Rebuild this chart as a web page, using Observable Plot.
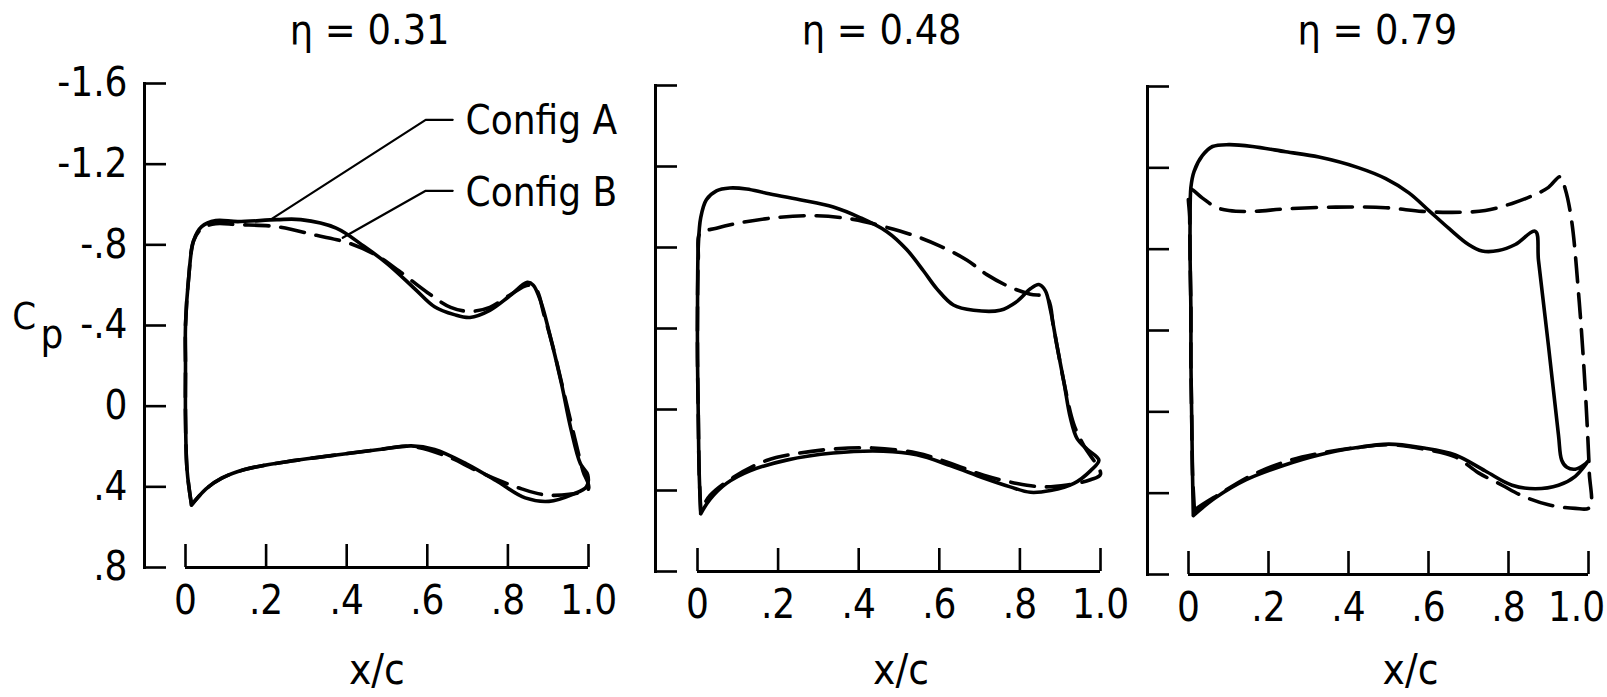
<!DOCTYPE html>
<html>
<head>
<meta charset="utf-8">
<script src="https://cdn.jsdelivr.net/npm/d3@7"></script>
<script src="https://cdn.jsdelivr.net/npm/@observablehq/plot@0.6"></script>
<style>
  html, body { margin: 0; padding: 0; background: #fff; }
  #chart { position: relative; width: 1607px; height: 697px; overflow: hidden; }
  #chart svg { position: absolute; top: 0; overflow: visible; }
</style>
</head>
<body>
<div id="chart"></div>
<script>
// ---------- data ----------
const panelTitles = ["η = 0.31", "η = 0.48", "η = 0.79"];
const seriesNames = ["Config A", "Config B"];
const xTicks = [0, 0.2, 0.4, 0.6, 0.8, 1.0];
const xTickLabels = ["0", ".2", ".4", ".6", ".8", "1.0"];
const yTicks = [-1.6, -1.2, -0.8, -0.4, 0, 0.4, 0.8];
const yTickLabels = ["-1.6", "-1.2", "-.8", "-.4", "0", ".4", ".8"];

// [x/c, Cp] around the section: leading edge up, upper surface to TE, lower surface back
const eta031A = [[0.015,0.49],[0.004,0.32],[0.0,0.05],[0.0,-0.20],[0.0,-0.40],[0.008,-0.64],[0.02,-0.82],[0.04,-0.89],[0.075,-0.92],[0.13,-0.915],[0.227,-0.925],[0.286,-0.925],[0.374,-0.883],[0.442,-0.794],[0.501,-0.706],[0.569,-0.582],[0.618,-0.493],[0.667,-0.454],[0.706,-0.44],[0.755,-0.475],[0.804,-0.546],[0.848,-0.614],[0.863,-0.60],[0.883,-0.51],[0.902,-0.37],[0.932,-0.12],[0.956,0.11],[0.98,0.286],[0.998,0.34],[0.995,0.40],[0.961,0.437],[0.902,0.472],[0.843,0.455],[0.775,0.375],[0.697,0.286],[0.618,0.215],[0.56,0.197],[0.481,0.215],[0.374,0.242],[0.247,0.277],[0.149,0.313],[0.09,0.357],[0.051,0.41],[0.015,0.49]];
const eta031B = [[0.015,0.49],[0.004,0.32],[0.0,0.05],[0.0,-0.20],[0.0,-0.40],[0.008,-0.64],[0.02,-0.82],[0.04,-0.88],[0.075,-0.905],[0.129,-0.90],[0.227,-0.89],[0.325,-0.847],[0.403,-0.81],[0.472,-0.75],[0.53,-0.67],[0.60,-0.564],[0.658,-0.49],[0.706,-0.47],[0.755,-0.49],[0.804,-0.55],[0.85,-0.60],[0.87,-0.58],[0.89,-0.45],[0.911,-0.30],[0.941,-0.05],[0.966,0.16],[0.986,0.32],[1.0,0.41],[0.952,0.437],[0.893,0.44],[0.834,0.41],[0.775,0.366],[0.716,0.313],[0.65,0.25],[0.56,0.20],[0.481,0.215],[0.374,0.242],[0.247,0.277],[0.149,0.313],[0.09,0.357],[0.051,0.41],[0.015,0.49]];

const eta048A = [[0.008,0.515],[0.004,0.30],[0.002,0.04],[0.0,-0.25],[0.0,-0.49],[0.002,-0.807],[0.008,-0.948],[0.022,-1.036],[0.047,-1.08],[0.08,-1.094],[0.122,-1.089],[0.171,-1.068],[0.254,-1.036],[0.337,-1.0],[0.403,-0.948],[0.47,-0.878],[0.519,-0.79],[0.561,-0.684],[0.594,-0.596],[0.635,-0.516],[0.685,-0.49],[0.751,-0.49],[0.793,-0.534],[0.826,-0.596],[0.847,-0.617],[0.863,-0.587],[0.876,-0.49],[0.892,-0.314],[0.909,-0.138],[0.925,0.039],[0.942,0.144],[0.967,0.197],[0.996,0.25],[0.975,0.303],[0.934,0.365],[0.876,0.40],[0.826,0.409],[0.776,0.382],[0.71,0.338],[0.627,0.277],[0.544,0.224],[0.461,0.206],[0.337,0.215],[0.221,0.25],[0.13,0.303],[0.072,0.365],[0.031,0.444],[0.008,0.515]];
const eta048B = [[0.008,0.50],[0.004,0.30],[0.002,0.04],[0.0,-0.25],[0.0,-0.49],[0.002,-0.75],[0.006,-0.869],[0.047,-0.895],[0.105,-0.922],[0.196,-0.948],[0.296,-0.957],[0.387,-0.939],[0.461,-0.904],[0.536,-0.86],[0.602,-0.807],[0.669,-0.737],[0.718,-0.666],[0.776,-0.604],[0.826,-0.569],[0.867,-0.552],[0.884,-0.40],[0.909,-0.138],[0.934,0.074],[0.959,0.18],[1.0,0.32],[0.975,0.347],[0.917,0.373],[0.859,0.382],[0.793,0.365],[0.71,0.325],[0.627,0.265],[0.544,0.215],[0.436,0.19],[0.337,0.195],[0.254,0.215],[0.171,0.252],[0.089,0.335],[0.031,0.425],[0.008,0.50]];

const eta079A = [[0.012,0.51],[0.01,0.30],[0.008,0.028],[0.006,-0.25],[0.006,-0.498],[0.004,-0.75],[0.004,-0.937],[0.006,-1.104],[0.014,-1.183],[0.035,-1.261],[0.06,-1.305],[0.101,-1.314],[0.16,-1.305],[0.243,-1.279],[0.326,-1.253],[0.426,-1.2],[0.493,-1.147],[0.551,-1.077],[0.601,-0.99],[0.651,-0.902],[0.70,-0.823],[0.734,-0.791],[0.775,-0.793],[0.817,-0.823],[0.867,-0.888],[0.875,-0.744],[0.90,-0.323],[0.925,0.115],[0.933,0.238],[0.946,0.273],[0.967,0.282],[0.992,0.256],[1.0,0.24],[0.967,0.317],[0.925,0.361],[0.867,0.378],[0.809,0.361],[0.742,0.291],[0.667,0.212],[0.584,0.177],[0.501,0.159],[0.418,0.177],[0.326,0.212],[0.235,0.265],[0.143,0.335],[0.068,0.422],[0.012,0.51]];
const eta079B = [[0.015,0.49],[0.01,0.30],[0.008,0.028],[0.006,-0.25],[0.006,-0.498],[0.004,-0.75],[0.003,-0.95],[0.003,-1.095],[0.035,-1.051],[0.068,-1.007],[0.101,-0.99],[0.16,-0.986],[0.243,-0.998],[0.368,-1.007],[0.493,-1.004],[0.584,-0.986],[0.659,-0.981],[0.742,-0.99],[0.809,-1.025],[0.867,-1.069],[0.90,-1.104],[0.929,-1.156],[0.942,-1.095],[0.958,-0.937],[0.975,-0.586],[0.988,-0.235],[0.998,0.115],[1.002,0.30],[1.003,0.47],[0.967,0.475],[0.90,0.457],[0.834,0.413],[0.784,0.361],[0.725,0.30],[0.667,0.222],[0.584,0.182],[0.501,0.162],[0.418,0.176],[0.326,0.205],[0.251,0.24],[0.16,0.31],[0.077,0.405],[0.018,0.48],[0.015,0.49]];

// leader lines for the series labels (first panel)
const leaderA = [[0.215,-0.93],[0.596,-1.42],[0.663,-1.42]];
const leaderB = [[0.39,-0.835],[0.596,-1.068],[0.663,-1.068]];

// ---------- layout ----------
const FONT = '"DejaVu Sans Condensed", "DejaVu Sans", sans-serif';
const panels = [
  {title: panelTitles[0], A: eta031A, B: eta031B, left: 0,    width: 620, axisPx: 144,  x0: 185,  x1: 588,  top: 83, bottom: 567, titleX: 0.457, xcX: 0.475, lastDx: 0,   labels: true},
  {title: panelTitles[1], A: eta048A, B: eta048B, left: 560,  width: 560, axisPx: 655,  x0: 697,  x1: 1100, top: 85, bottom: 571, titleX: 0.457, xcX: 0.505, lastDx: 0,   labels: false},
  {title: panelTitles[2], A: eta079A, B: eta079B, left: 1060, width: 547, axisPx: 1147, x0: 1188, x1: 1588, top: 86, bottom: 574, titleX: 0.472, xcX: 0.555, lastDx: -12, labels: false}
];

const yLabelMap = new Map(yTicks.map((t, i) => [t, yTickLabels[i]]));
const xLabelMap = new Map(xTicks.map((t, i) => [t, xTickLabels[i]]));
const H = 697;
const chart = document.getElementById("chart");

panels.forEach(p => {
  const marks = [
    // y axis spine
    Plot.frame({anchor: "left", strokeWidth: 3}),
    // inward y ticks
    Plot.axisY(yTicks, {anchor: "left", tickSize: 22, dx: 22, strokeWidth: 2.6, tickFormat: () => "", label: null}),
    // x baseline and upward ticks
    Plot.ruleY([yTicks[yTicks.length - 1]], {x1: xTicks[0], x2: xTicks[xTicks.length - 1], strokeWidth: 3}),
    Plot.axisX(xTicks, {anchor: "bottom", tickSize: 23, dy: -23, strokeWidth: 2.6, tickFormat: () => "", label: null}),
    Plot.axisX(xTicks.slice(0, -1), {anchor: "bottom", tickSize: 0, tickPadding: 18, tickFormat: d => xLabelMap.get(d), label: null, fontSize: 40}),
    Plot.axisX(xTicks.slice(-1), {anchor: "bottom", tickSize: 0, tickPadding: 18, dx: p.lastDx, tickFormat: d => xLabelMap.get(d), label: null, fontSize: 40}),
    // data
    Plot.line(p.A, {x: d => d[0], y: d => d[1], curve: "catmull-rom", strokeWidth: 3.6, stroke: "#000"}),
    Plot.line(p.B, {x: d => d[0], y: d => d[1], curve: "catmull-rom", strokeWidth: 3.6, stroke: "#000", strokeDasharray: "24,12"}),
    // title
    Plot.text([p.title], {x: () => p.titleX, frameAnchor: "top", dy: 43 - p.top, lineAnchor: "bottom", text: d => d, fontSize: 41}),
    // x label
    Plot.text(["x/c"], {x: () => p.xcX, frameAnchor: "bottom", dy: 670 - p.bottom, lineAnchor: "middle", text: d => d, fontSize: 42})
  ];
  if (p.labels) {
    marks.push(
      Plot.axisY(yTicks, {anchor: "left", tickSize: 0, tickPadding: 17, tickFormat: d => yLabelMap.get(d), label: null, fontSize: 40}),
      Plot.text(["C"], {x: () => -0.43, y: () => -0.385, textAnchor: "start", lineAnchor: "bottom", text: d => d, fontSize: 38}),
      Plot.text(["p"], {x: () => -0.36, y: () => -0.29, textAnchor: "start", lineAnchor: "bottom", text: d => d, fontSize: 40}),
      Plot.line(leaderA, {x: d => d[0], y: d => d[1], strokeWidth: 2.2}),
      Plot.line(leaderB, {x: d => d[0], y: d => d[1], strokeWidth: 2.2}),
      Plot.text([seriesNames[0]], {x: () => 0.695, y: () => -1.415, textAnchor: "start", lineAnchor: "middle", text: d => d, fontSize: 40}),
      Plot.text([seriesNames[1]], {x: () => 0.695, y: () => -1.055, textAnchor: "start", lineAnchor: "middle", text: d => d, fontSize: 40})
    );
  }
  const svg = Plot.plot({
    width: p.width,
    height: H,
    marginLeft: p.axisPx - p.left,
    marginRight: p.width - (p.x1 - p.left) - 10,
    marginTop: p.top,
    marginBottom: H - p.bottom,
    style: {fontFamily: FONT, fontSize: "40px", background: "transparent", color: "#000"},
    x: {domain: [0, 1], range: [p.x0 - p.left, p.x1 - p.left], axis: null},
    y: {domain: [yTicks[0], yTicks[yTicks.length - 1]], reverse: true, axis: null},
    marks
  });
  svg.style.left = p.left + "px";
  svg.style.maxWidth = "none";
  chart.appendChild(svg);
});
</script>
</body>
</html>
